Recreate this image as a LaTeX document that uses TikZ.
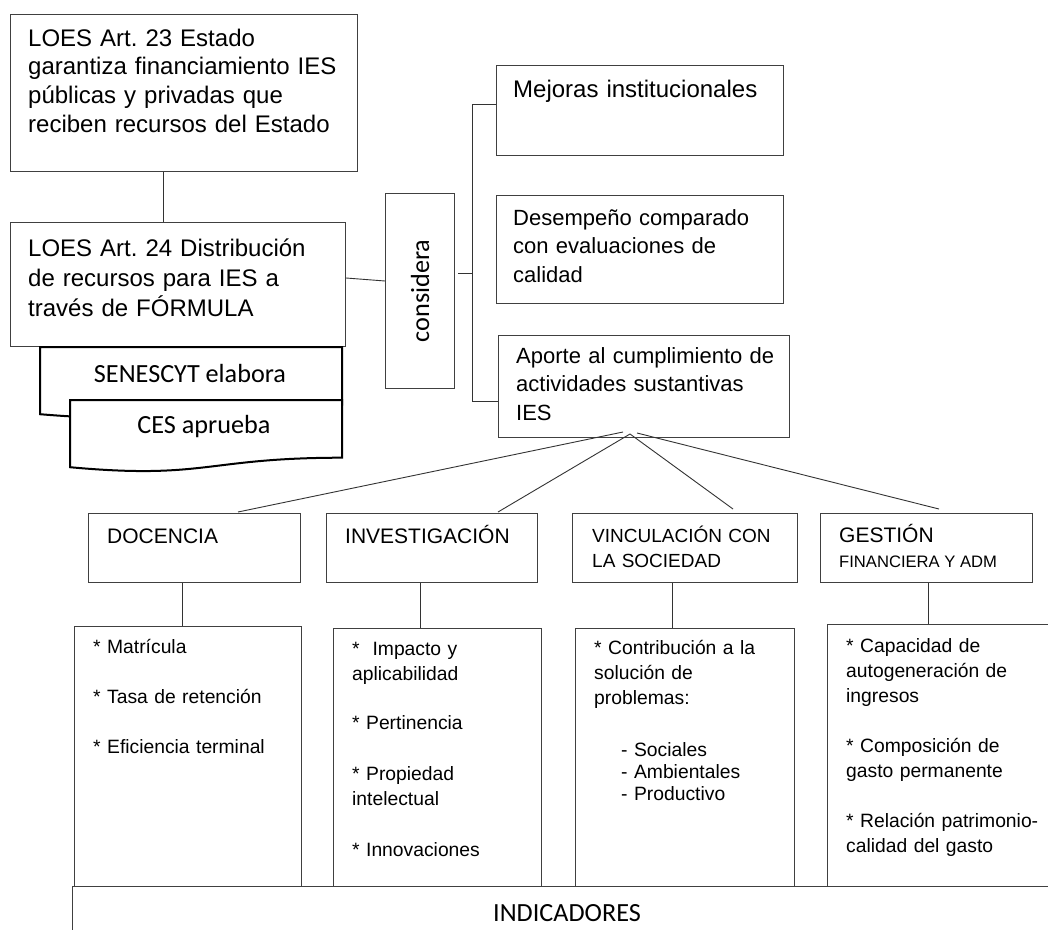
\documentclass[tikz,border=0pt]{standalone}
\usepackage{fontspec}
\setmainfont{Liberation Sans}
\newfontfamily\carl{Carlito}
\usetikzlibrary{calc}
\frenchspacing
\newcommand\firstrule{\rule{0pt}{1.1em}}
\begin{document}
\begin{tikzpicture}[x=1pt,y=-1pt,
  box/.style={draw=black!75, line width=1pt, inner sep=0pt, anchor=north west},
  conn/.style={draw=black!80, line width=0.9pt},
  docshape/.style={draw=black, line width=2pt, fill=white, line join=miter},
  txt/.style={anchor=north west, inner sep=0pt, align=left, text width=330pt, text=black},
  big/.style={font=\fontsize{24}{28.7}\selectfont},
  mid/.style={font=\fontsize{22}{28.5}\selectfont},
  small/.style={font=\fontsize{19.3}{25}\selectfont},
  cal/.style={font=\carl\fontsize{26.2}{31}\selectfont, inner sep=0pt},
]
\useasboundingbox (0,0) rectangle (1048,929);
\clip (0,0) rectangle (1048,929);
\fill[white] (0,0) rectangle (1048,929);

% boxes
\node[box, minimum width=347, minimum height=157] (b23) at (10,14) {};
\node[box, minimum width=335, minimum height=124] (b24) at (10,222) {};
\node[box, minimum width=69, minimum height=195] (cons) at (385,193) {};
\node[box, minimum width=287, minimum height=90] (mej) at (496,65) {};
\node[box, minimum width=287, minimum height=108] (des) at (496,195) {};
\node[box, minimum width=291, minimum height=102] (apo) at (498,335) {};
\node[box, minimum width=212, minimum height=69] (doc) at (88,513) {};
\node[box, minimum width=211, minimum height=69] (inv) at (326,513) {};
\node[box, minimum width=225, minimum height=69] (vin) at (572,513) {};
\node[box, minimum width=212, minimum height=69] (ges) at (820,513) {};
\node[box, minimum width=227, minimum height=260] (idoc) at (74,626) {};
\node[box, minimum width=208, minimum height=258] (iinv) at (333,628) {};
\node[box, minimum width=219, minimum height=258] (ivin) at (575,628) {};
\node[box, minimum width=240, minimum height=262] (iges) at (827,624) {};
\node[box, minimum width=990, minimum height=60] (ind) at (72,886) {};

% document shapes
\draw[docshape] (40,347) -- (342,347) -- (342,404.7) .. controls (191,404.7) and (191,426.7) .. (40,414.2) -- cycle;
\draw[docshape] (70,400) -- (342,400) -- (342,457.7) .. controls (206,457.7) and (206,479.7) .. (70,467.2) -- cycle;
\node[cal, anchor=base] (sen) at (190,382) {SENESCYT elabora};
\node[cal, anchor=base] (ces) at (204,433) {CES aprueba};

% connectors
\draw[conn] ($(b23.south west)+(153,0)$) -- ($(b24.north west)+(153,0)$);
\draw[conn] ($(b24.north east)+(0,56)$) -- ($(cons.north west)+(0,88)$);
\draw[conn] ($(cons.north east)+(3,80)$) -- ++(15,0);
\draw[conn] ($(mej.north west)+(0,39)$) -- ++(-24,0) |- ($(apo.north west)+(0,66)$);

\coordinate (fa) at (623,432);
\coordinate (fb) at (630,434);
\coordinate (fc) at (637,433);
\draw[conn] (fa) -- ($(doc.north west)+(150,-1)$);
\draw[conn] (fb) -- ($(inv.north west)+(172,-1)$);
\draw[conn] (fb) -- ($(vin.north west)+(161,-4)$);
\draw[conn] (fc) -- ($(ges.north west)+(119,-4)$);

\draw[conn] ($(doc.south west)+(94,0)$) -- ($(idoc.north west)+(108,0)$);
\draw[conn] ($(inv.south west)+(94,0)$) -- ($(iinv.north west)+(87,0)$);
\draw[conn] ($(vin.south west)+(100,0)$) -- ($(ivin.north west)+(97,0)$);
\draw[conn] ($(ges.south west)+(108,0)$) -- ($(iges.north west)+(101,0)$);

% texts
\node[txt, big] (t23) at (28,{46-1.1*24}) {\firstrule LOES Art. 23 Estado\\garantiza financiamiento IES\\públicas y privadas que\\reciben recursos del Estado};
\node[txt, font=\fontsize{24}{30}\selectfont] (t24) at (28,{256-1.1*24}) {\firstrule LOES Art. 24 Distribución\\de recursos para IES a\\través de FÓRMULA};
\node[cal, rotate=90] (tcons) at (420,291) {considera};
\node[txt, big] (tmej) at (513,{97-1.1*24}) {\firstrule Mejoras institucionales};
\node[txt, mid] (tdes) at (513,{225-1.1*22}) {\firstrule Desempeño comparado\\con evaluaciones de\\calidad};
\node[txt, mid] (tapo) at (516,{363-1.1*22}) {\firstrule Aporte al cumplimiento de\\actividades sustantivas\\IES};

\node[inner sep=0pt, anchor=base west, font=\fontsize{21}{25}\selectfont] (tdoc) at (107,543) {DOCENCIA};
\node[inner sep=0pt, anchor=base west, font=\fontsize{21}{25}\selectfont] (tinv) at (345,543) {INVESTIGACIÓN};
\node[txt, font=\fontsize{19}{25}\selectfont] (tvin) at (592,{542-1.1*19}) {\firstrule VINCULACIÓN CON\\LA SOCIEDAD};
\node[inner sep=0pt, anchor=base west, font=\fontsize{21}{25}\selectfont] (tges) at (839,542) {GESTIÓN};
\node[inner sep=0pt, anchor=base west, font=\fontsize{16.6}{20}\selectfont] (tges2) at (839,567) {FINANCIERA Y ADM};

\node[txt, small] (tidoc) at (93,{653-1.1*19.3}) {\firstrule * Matrícula\\[25pt]* Tasa de retención\\[25pt]* Eficiencia terminal};
\node[txt, small] (tiinv) at (352,{655-1.1*19.3}) {\firstrule *\ \ Impacto y\\aplicabilidad\\[24pt]* Pertinencia\\[26pt]* Propiedad\\intelectual\\[26pt]* Innovaciones};
\node[txt, small] (tivin) at (594,{654-1.1*19.3}) {\firstrule * Contribución a la\\solución de\\problemas:\\[27pt]\hspace*{27pt}- Sociales\\[-3pt]\hspace*{27pt}- Ambientales\\[-3pt]\hspace*{27pt}- Productivo};
\node[txt, small] (tiges) at (846,{652-1.1*19.3}) {\firstrule * Capacidad de\\autogeneración de\\ingresos\\[25pt]* Composición de\\gasto permanente\\[25pt]* Relación patrimonio-\\calidad del gasto};

\node[cal, anchor=base] (tind) at (567,921) {INDICADORES};
\end{tikzpicture}
\end{document}
